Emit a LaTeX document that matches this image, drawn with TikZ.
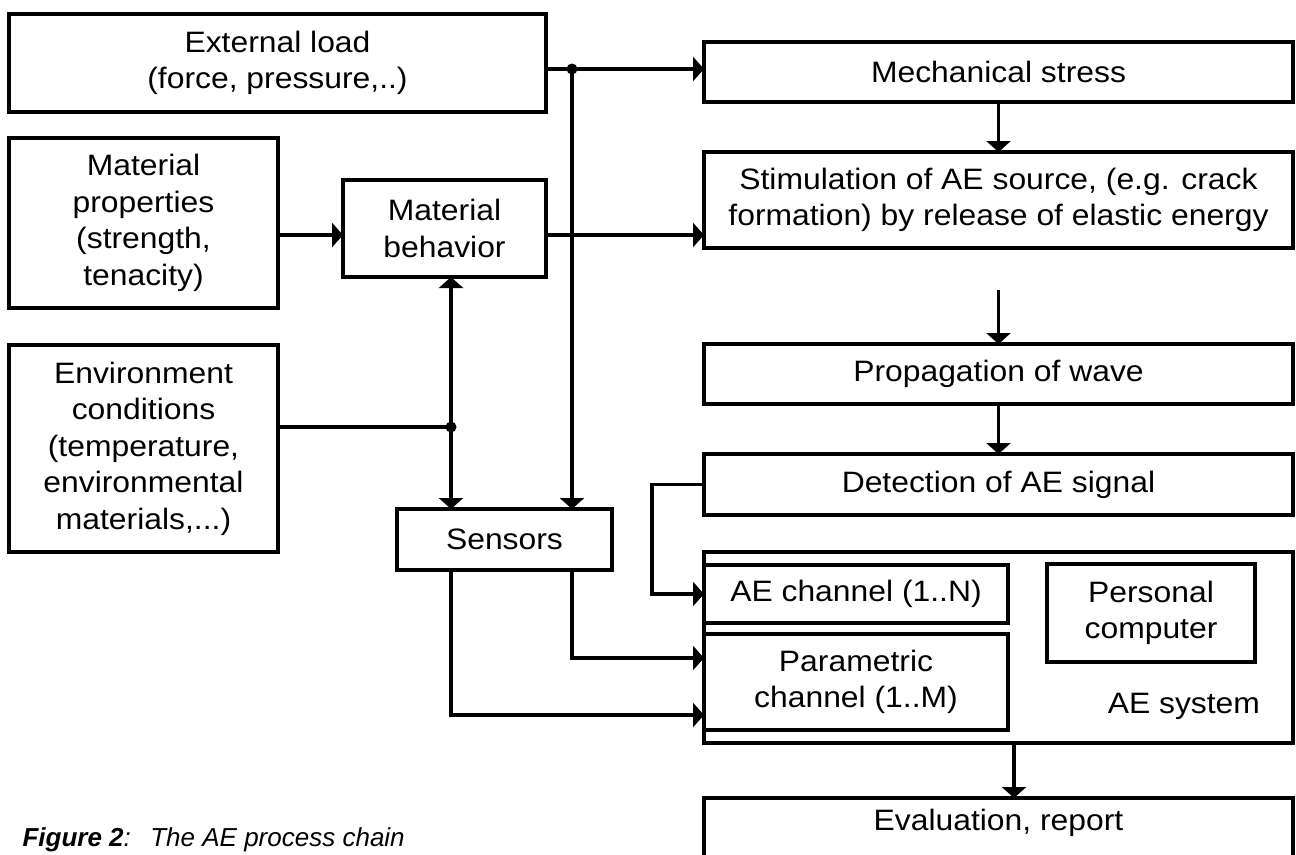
\documentclass[tikz,border=0pt]{standalone}
\usepackage{fontspec}
\setmainfont{Liberation Sans}[FakeStretch=1.08]
\newfontfamily\capfont{Liberation Sans}
\usepackage{tikz}
\usetikzlibrary{arrows.meta,positioning}

\begin{document}
\begin{tikzpicture}[
    x=1bp, y=-1bp,
    box/.style={rectangle, draw=black, line width=3.5bp, inner sep=0pt, outer sep=0pt, align=center, font=\fontsize{29.5bp}{36.5bp}\selectfont},
    link/.style={line width=3.5bp},
    arr/.style={link, -{Triangle[length=11bp,width=24bp]}}
]
\useasboundingbox (0,0) rectangle (1296,855);
\clip (0,0) rectangle (1296,855);

% Left column: influences
\node[box, minimum width=537bp, minimum height=98bp, anchor=north west] (load) at (9,14) {External load\\(force, pressure,..)};
\node[box, minimum width=269bp, minimum height=170bp, below right=26bp and 0bp of load.south west] (matprop) {Material\\properties\\(strength,\\tenacity)};
\node[box, minimum width=269bp, minimum height=207bp, below=37bp of matprop] (env) {Environment\\conditions\\(temperature,\\environmental\\materials,...)};
\node[box, minimum width=203bp, minimum height=97bp, below right=42bp and 65bp of matprop.north east] (matbeh) {Material\\behavior};
\node[box, minimum width=215bp, minimum height=61bp, anchor=north west] (sensors) at (397,509) {Sensors};

% Right column: process chain
\node[box, minimum width=589bp, minimum height=60bp, anchor=north west] (mech) at (704,42) {Mechanical stress};
\node[box, minimum width=589bp, minimum height=96bp, below=50bp of mech] (stim) {Stimulation of AE source, (e.g. crack\\formation) by release of elastic energy};
\node[box, minimum width=589bp, minimum height=60bp, below=96bp of stim] (prop) {Propagation of wave};
\node[box, minimum width=589bp, minimum height=61bp, below=50bp of prop] (det) {Detection of AE signal};
\node[box, minimum width=589bp, minimum height=191bp, below=37bp of det] (aesys) {};
\node[box, minimum width=589bp, minimum height=60bp, text height=22bp, text depth=18bp, below=55bp of aesys] (eval) {Evaluation, report};

% AE system contents
\node[box, minimum width=304bp, minimum height=58bp, below right=13bp and 0bp of aesys.north west] (aech) {AE channel (1..N)};
\node[box, minimum width=304bp, minimum height=96bp, below=11bp of aech] (param) {Parametric\\channel (1..M)};
\node[box, minimum width=208bp, minimum height=98bp, below right=12bp and 343bp of aesys.north west] (pc) {Personal\\computer};
\node[box, draw=none, anchor=base east] (aelbl) at ([xshift=-33bp, yshift=30bp]aesys.south east) {AE system};

% Junctions
\coordinate (jload) at (572,69);
\coordinate (jenv) at (451,427);
\coordinate (behrow) at (0,235);

% Connectors
\draw[link] (jload -| load.east) -- (jload);
\draw[arr] (jload) -- (jload -| mech.west);
\draw[arr] (jload) -- (jload |- sensors.north);
\draw[arr] (matprop.east |- behrow) -- (matbeh.west |- behrow);
\draw[arr] (matbeh.east |- behrow) -- (stim.west |- behrow);
\draw[link] (env.east |- jenv) -- (jenv);
\draw[arr] (jenv) -- (jenv |- matbeh.south);
\draw[arr] (jenv) -- (jenv |- sensors.north);

\draw[arr] (mech) -- (stim);
\draw[arr, shorten <=42bp] (stim) -- (prop);
\draw[arr] (prop) -- (det);
\draw[arr] (det.west) -- ++(-52bp,0) |- (aech.west);
\draw[arr] (sensors.south -| jload) |- ([yshift=24bp]param.west);
\draw[arr] (sensors.south -| jenv) |- ([yshift=-33bp]param.west);
\draw[arr] ([xshift=15.5bp]aesys.south) -- ([xshift=15.5bp]aesys.south |- eval.north);

% Junction dots
\fill (jload) circle[radius=5.5bp];
\fill (jenv) circle[radius=5.5bp];

% Caption
\node[anchor=base west, font=\capfont\fontsize{26bp}{31bp}\selectfont\itshape] (caption) at (19,846) {\textbf{Figure 2}:\hspace{0.75em}The AE process chain};

\end{tikzpicture}
\end{document}
